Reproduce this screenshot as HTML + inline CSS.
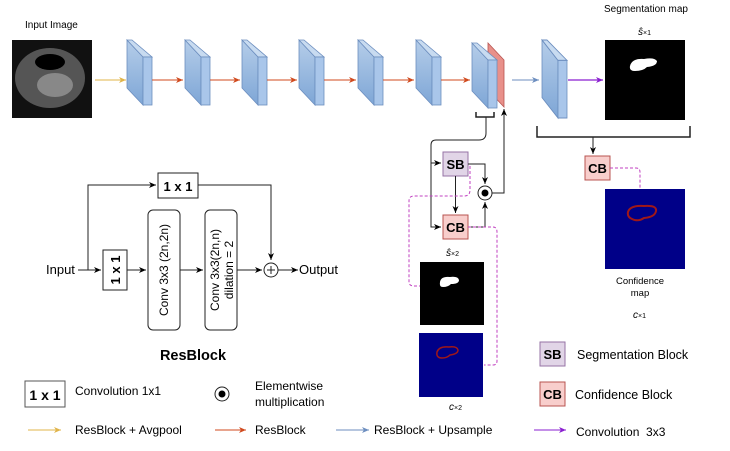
<!DOCTYPE html>
<html><head><style>body{margin:0;background:#fff}svg{display:block}text{font-family:"Liberation Sans",sans-serif}</style></head><body>
<svg width="730" height="451" viewBox="0 0 730 451" xmlns="http://www.w3.org/2000/svg">
<defs>
<linearGradient id="bl" x1="0" y1="0" x2="0" y2="1"><stop offset="0" stop-color="#b5cde9"/><stop offset="1" stop-color="#7ea6d6"/></linearGradient>
<g id="blk"><polygon points="0,0 16,17 16,65 0,48" fill="url(#bl)" stroke="#6c8ebf" stroke-width="0.8"/><polygon points="0,0 5,0 25,17 16,17" fill="#c8dbf0" stroke="#6c8ebf" stroke-width="0.8"/><rect x="16" y="17" width="9" height="48" fill="#a9c6ea" stroke="#6c8ebf" stroke-width="0.8"/></g>
<marker id="ak" markerWidth="8" markerHeight="8" refX="7" refY="4" orient="auto" markerUnits="userSpaceOnUse"><path d="M0,1 L7,4 L0,7 L2,4z" fill="#000"/></marker>
<marker id="ar" markerWidth="8" markerHeight="8" refX="7" refY="4" orient="auto" markerUnits="userSpaceOnUse"><path d="M0,1 L7,4 L0,7 L2,4z" fill="#d04a1e"/></marker>
<marker id="ay" markerWidth="8" markerHeight="8" refX="7" refY="4" orient="auto" markerUnits="userSpaceOnUse"><path d="M0,1 L7,4 L0,7 L2,4z" fill="#e0b44a"/></marker>
<marker id="ab" markerWidth="8" markerHeight="8" refX="7" refY="4" orient="auto" markerUnits="userSpaceOnUse"><path d="M0,1 L7,4 L0,7 L2,4z" fill="#6c8ebf"/></marker>
<marker id="ap" markerWidth="8" markerHeight="8" refX="7" refY="4" orient="auto" markerUnits="userSpaceOnUse"><path d="M0,1 L7,4 L0,7 L2,4z" fill="#8a1fd0"/></marker>
</defs>
<text x="25" y="28" font-size="10">Input Image</text>
<rect x="12" y="40" width="80" height="78" fill="#111"/>
<ellipse cx="50" cy="78" rx="35" ry="30" fill="#555"/><ellipse cx="50" cy="62" rx="15" ry="8" fill="#000"/><ellipse cx="55" cy="85" rx="18" ry="12" fill="#888"/>
<line x1="95" y1="80" x2="126" y2="80" stroke="#e0b44a" marker-end="url(#ay)"/>
<use href="#blk" x="127" y="40"/><use href="#blk" x="185" y="40"/><use href="#blk" x="242" y="40"/><use href="#blk" x="299" y="40"/><use href="#blk" x="358" y="40"/><use href="#blk" x="416" y="40"/>
<g stroke="#d04a1e" marker-end="url(#ar)"><line x1="152" y1="80" x2="183" y2="80"/><line x1="210" y1="80" x2="240" y2="80"/><line x1="267" y1="80" x2="297" y2="80"/><line x1="324" y1="80" x2="356" y2="80"/><line x1="383" y1="80" x2="414" y2="80"/><line x1="441" y1="80" x2="470" y2="80"/></g>
<polygon points="488,43 504,60 504,107 488,90" fill="#e8908a" stroke="#b85450" stroke-width="0.8"/>
<use href="#blk" x="472" y="43"/>
<line x1="512" y1="80" x2="539" y2="80" stroke="#6c8ebf" marker-end="url(#ab)"/>
<g transform="translate(542,40) scale(1,1.2)"><use href="#blk"/></g>
<line x1="568" y1="80" x2="603" y2="80" stroke="#8a1fd0" stroke-width="1.3" marker-end="url(#ap)"/>
<text x="604" y="12" font-size="10">Segmentation map</text>
<text x="638" y="35" font-size="10" font-family="Liberation Serif" font-style="italic">ŝ<tspan font-size="7" font-style="normal">×1</tspan></text>
<rect x="605" y="40" width="80" height="80" fill="#000"/>
<path d="M630,66 q2,-8 14,-7 q10,-2 13,2 q0,5 -10,6 q-4,4 -12,4 q-6,0 -5,-5z" fill="#fff"/>
<path d="M476,112 V117 H494 V112" fill="none" stroke="#222" stroke-width="1.5"/>
<path d="M486,117 V133 Q486,140 479,140 H436 Q431,140 431,145 V227 H441" fill="none" stroke="#222" marker-end="url(#ak)"/>
<line x1="431" y1="163" x2="441" y2="163" stroke="#222" marker-end="url(#ak)"/>
<line x1="504" y1="190" x2="504" y2="109" stroke="#222" marker-end="url(#ak)"/>
<rect x="443" y="152" width="25" height="24" fill="#e1d5e7" stroke="#9673a6"/>
<text x="455.5" y="169" font-size="13" font-weight="bold" text-anchor="middle">SB</text>
<rect x="443" y="215" width="25" height="24" fill="#f8cecc" stroke="#b85450"/>
<text x="455.5" y="232" font-size="13" font-weight="bold" text-anchor="middle">CB</text>
<line x1="455.5" y1="176" x2="455.5" y2="213" stroke="#222" marker-end="url(#ak)"/>
<path d="M468,164 H485 V184" fill="none" stroke="#222" marker-end="url(#ak)"/>
<path d="M468,227 H485 V202" fill="none" stroke="#222" marker-end="url(#ak)"/>
<circle cx="485" cy="193" r="7" fill="#fff" stroke="#222"/><circle cx="485" cy="193" r="3.5" fill="#000"/>
<path d="M492,193 H504 V190" fill="none" stroke="#222"/>
<path d="M470,166 V190 Q470,196 464,196 H414 Q409,196 409,201 V282 Q409,286 414,286 H420" fill="none" stroke="#c040c0" stroke-dasharray="3,2"/>
<path d="M468,227 H493 Q497,227 497,232 V361 Q497,365 493,365 H484" fill="none" stroke="#c040c0" stroke-dasharray="3,2"/>
<text x="446" y="256" font-size="10" font-family="Liberation Serif" font-style="italic">ŝ<tspan font-size="7" font-style="normal">×2</tspan></text>
<rect x="420" y="262" width="64" height="63" fill="#000"/>
<path d="M440,282 q1,-6 10,-5 q8,-1 9,3 q0,4 -8,4 q-3,3 -8,3 q-4,0 -3,-5z" fill="#fff"/>
<rect x="419" y="333" width="64" height="64" fill="#000088"/>
<path d="M437,352 q2,-6 12,-5 q8,-1 9,3 q0,4 -8,5 q-3,3 -8,3 q-6,0 -5,-6z" fill="none" stroke="#a01818" stroke-width="1.5"/>
<text x="449" y="410" font-size="10" font-family="Liberation Serif" font-style="italic">c<tspan font-size="7" font-style="normal">×2</tspan></text>
<path d="M537,126 V137 H690 V126" fill="none" stroke="#222" stroke-width="1.5"/>
<line x1="593" y1="137" x2="593" y2="154" stroke="#222" marker-end="url(#ak)"/>
<rect x="585" y="156" width="25" height="24" fill="#f8cecc" stroke="#b85450"/>
<text x="597.5" y="173" font-size="13" font-weight="bold" text-anchor="middle">CB</text>
<path d="M610,168 H636 Q640,168 640,172 V189" fill="none" stroke="#c040c0" stroke-dasharray="3,2"/>
<rect x="605" y="189" width="80" height="80" fill="#000088"/>
<path d="M628,212 q2,-7 16,-6 q13,-1 12,5 q-1,6 -12,7 q-6,4 -12,1 q-5,-2 -4,-7z" fill="none" stroke="#a01818" stroke-width="2"/>
<text x="640" y="284" font-size="9.5" text-anchor="middle">Confidence</text>
<text x="640" y="296" font-size="9.5" text-anchor="middle">map</text>
<text x="633" y="318" font-size="10" font-family="Liberation Serif" font-style="italic">c<tspan font-size="7" font-style="normal">×1</tspan></text>
<rect x="540" y="342" width="25" height="24" fill="#e1d5e7" stroke="#9673a6"/>
<text x="552.5" y="359" font-size="13" font-weight="bold" text-anchor="middle">SB</text>
<text x="577" y="359" font-size="12.5">Segmentation Block</text>
<rect x="540" y="382" width="25" height="24" fill="#f8cecc" stroke="#b85450"/>
<text x="552.5" y="399" font-size="13" font-weight="bold" text-anchor="middle">CB</text>
<text x="575" y="399" font-size="12.5">Confidence Block</text>
<!-- ResBlock -->
<text x="46" y="274" font-size="13">Input</text>
<line x1="78" y1="270" x2="101" y2="270" stroke="#222" marker-end="url(#ak)"/>
<path d="M88,270 V185 H156" fill="none" stroke="#222" marker-end="url(#ak)"/>
<rect x="158" y="173" width="40" height="25" fill="#fff" stroke="#222"/>
<text x="178" y="191" font-size="13" font-weight="bold" text-anchor="middle" font-family="Liberation Mono">1 x 1</text>
<path d="M198,185 H271 V260" fill="none" stroke="#222" marker-end="url(#ak)"/>
<rect x="103" y="250" width="24" height="40" fill="#fff" stroke="#222"/>
<text transform="translate(120,270) rotate(-90)" font-size="13" font-weight="bold" text-anchor="middle" font-family="Liberation Mono">1 x 1</text>
<line x1="127" y1="270" x2="146" y2="270" stroke="#222" marker-end="url(#ak)"/>
<rect x="148" y="210" width="32" height="120" rx="5" fill="#fff" stroke="#222"/>
<text transform="translate(168,270) rotate(-90)" font-size="12" text-anchor="middle">Conv 3x3 (2n,2n)</text>
<line x1="180" y1="270" x2="203" y2="270" stroke="#222" marker-end="url(#ak)"/>
<rect x="205" y="210" width="32" height="120" rx="5" fill="#fff" stroke="#222"/>
<text transform="translate(219,270) rotate(-90)" font-size="12" text-anchor="middle">Conv 3x3(2n,n)</text>
<text transform="translate(233,270) rotate(-90)" font-size="12" text-anchor="middle">dilation = 2</text>
<line x1="237" y1="270" x2="262" y2="270" stroke="#222" marker-end="url(#ak)"/>
<circle cx="271" cy="270" r="7" fill="#fff" stroke="#222"/>
<path d="M267,270 H275 M271,266 V274" stroke="#222"/>
<line x1="278" y1="270" x2="298" y2="270" stroke="#222" marker-end="url(#ak)"/>
<text x="299" y="274" font-size="13">Output</text>
<text x="193" y="360" font-size="14.5" font-weight="bold" text-anchor="middle">ResBlock</text>
<!-- legend -->
<rect x="25" y="381" width="40" height="26" fill="#fff" stroke="#555"/>
<text x="45" y="400" font-size="14" font-weight="bold" text-anchor="middle" font-family="Liberation Mono">1 x 1</text>
<text x="75" y="395" font-size="12">Convolution 1x1</text>
<circle cx="222" cy="394" r="7" fill="#fff" stroke="#222"/><circle cx="222" cy="394" r="3.5" fill="#000"/>
<text x="255" y="390" font-size="12">Elementwise</text>
<text x="255" y="406" font-size="12">multiplication</text>
<line x1="28" y1="430" x2="61" y2="430" stroke="#e0b44a" marker-end="url(#ay)"/>
<text x="75" y="434" font-size="12">ResBlock + Avgpool</text>
<line x1="215" y1="430" x2="246" y2="430" stroke="#d04a1e" marker-end="url(#ar)"/>
<text x="255" y="434" font-size="12">ResBlock</text>
<line x1="336" y1="430" x2="369" y2="430" stroke="#6c8ebf" marker-end="url(#ab)"/>
<text x="374" y="434" font-size="12">ResBlock + Upsample</text>
<line x1="534" y1="430" x2="566" y2="430" stroke="#8a1fd0" marker-end="url(#ap)"/>
<text x="576" y="436" font-size="12">Convolution&#160; 3x3</text>
</svg>
</body></html>
